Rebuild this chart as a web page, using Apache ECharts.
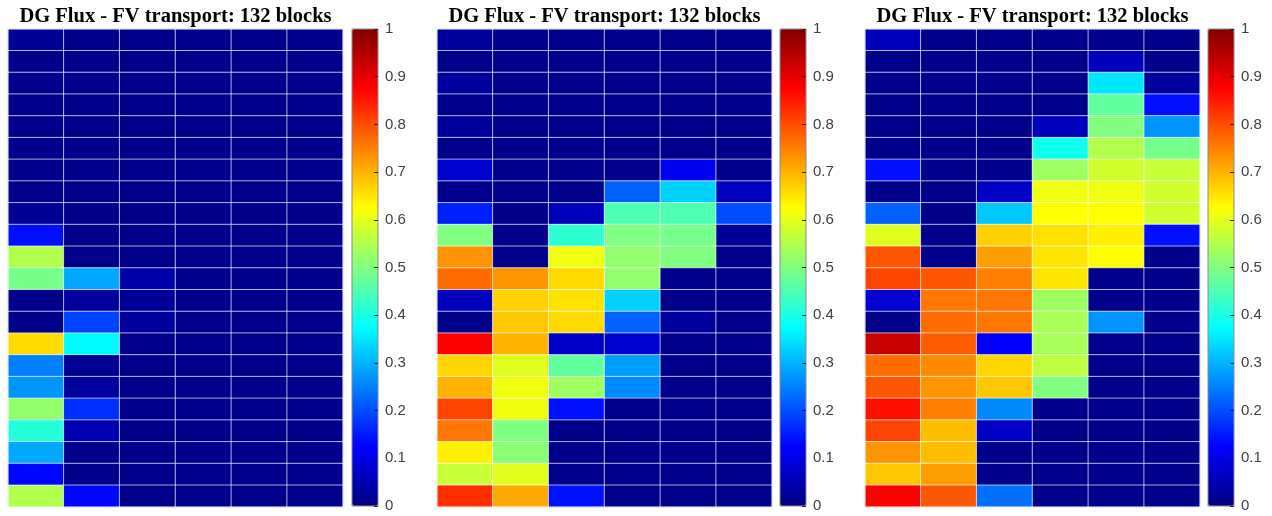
<!DOCTYPE html>
<html><head><meta charset="utf-8">
<script src="https://cdn.jsdelivr.net/npm/echarts@6/dist/echarts.min.js"></script>
<style>html,body{margin:0;padding:0;background:#fff}#c{width:1272px;height:516px}</style>
</head><body><div id="c"></div>
<script>
const titles = ["DG Flux - FV transport: 132 blocks","DG Flux - FV transport: 132 blocks","DG Flux - FV transport: 132 blocks"];
const colorbarTicks = [0,0.1,0.2,0.3,0.4,0.5,0.6,0.7,0.8,0.9,1];
const panel1 = [
[0.02,0.01,0.01,0.01,0.01,0.01],
[0.01,0.01,0.01,0.01,0.01,0.01],
[0.01,0.01,0.01,0.01,0.01,0.01],
[0.01,0.01,0.01,0.01,0.01,0.01],
[0.01,0.01,0.01,0.01,0.01,0.01],
[0.01,0.01,0.01,0.01,0.01,0.01],
[0.01,0.01,0.01,0.01,0.01,0.01],
[0.01,0.01,0.01,0.01,0.01,0.01],
[0.02,0.01,0.01,0.01,0.01,0.01],
[0.14,0.01,0.01,0.01,0.01,0.01],
[0.55,0.01,0.01,0.01,0.01,0.01],
[0.49,0.29,0.04,0.01,0.01,0.01],
[0.01,0.03,0.02,0.01,0.01,0.01],
[0.01,0.19,0.03,0.01,0.01,0.01],
[0.66,0.37,0.01,0.01,0.01,0.01],
[0.25,0.02,0.01,0.01,0.01,0.01],
[0.27,0.03,0.01,0.01,0.01,0.01],
[0.52,0.17,0.01,0.01,0.01,0.01],
[0.41,0.05,0.01,0.01,0.01,0.01],
[0.29,0.01,0.01,0.01,0.01,0.01],
[0.13,0.01,0.01,0.01,0.01,0.01],
[0.55,0.13,0.01,0.01,0.01,0.01]
];
const panel2 = [
[0.03,0.01,0.01,0.01,0.01,0.01],
[0.01,0.01,0.01,0.01,0.01,0.01],
[0.03,0.01,0.01,0.01,0.01,0.01],
[0.01,0.01,0.01,0.01,0.01,0.01],
[0.03,0.01,0.01,0.01,0.01,0.01],
[0.01,0.01,0.01,0.01,0.01,0.01],
[0.08,0.01,0.01,0.01,0.11,0.01],
[0.01,0.01,0.01,0.22,0.33,0.06],
[0.155,0.01,0.06,0.45,0.45,0.2],
[0.5,0.01,0.42,0.5,0.49,0.02],
[0.73,0.01,0.61,0.52,0.5,0.01],
[0.77,0.73,0.66,0.52,0.01,0.01],
[0.06,0.67,0.655,0.33,0.01,0.01],
[0.01,0.68,0.66,0.22,0.03,0.01],
[0.875,0.7,0.07,0.08,0.01,0.01],
[0.665,0.595,0.47,0.28,0.01,0.01],
[0.7,0.61,0.53,0.26,0.01,0.01],
[0.81,0.61,0.14,0.01,0.01,0.01],
[0.76,0.5,0.01,0.01,0.01,0.01],
[0.64,0.51,0.01,0.01,0.01,0.01],
[0.57,0.595,0.01,0.01,0.01,0.01],
[0.83,0.71,0.14,0.01,0.01,0.01]
];
const panel3 = [
[0.06,0.01,0.01,0.01,0.01,0.01],
[0.01,0.01,0.01,0.01,0.06,0.01],
[0.01,0.01,0.01,0.01,0.35,0.03],
[0.01,0.01,0.01,0.01,0.47,0.14],
[0.01,0.01,0.01,0.06,0.5,0.27],
[0.01,0.01,0.01,0.39,0.55,0.49],
[0.14,0.01,0.01,0.53,0.58,0.57],
[0.01,0.01,0.07,0.61,0.61,0.58],
[0.22,0.01,0.32,0.625,0.625,0.58],
[0.595,0.01,0.67,0.655,0.64,0.14],
[0.79,0.01,0.72,0.65,0.625,0.01],
[0.81,0.79,0.75,0.65,0.01,0.01],
[0.08,0.76,0.76,0.53,0.01,0.01],
[0.01,0.77,0.76,0.54,0.27,0.01],
[0.93,0.785,0.12,0.54,0.01,0.01],
[0.77,0.74,0.665,0.56,0.01,0.01],
[0.79,0.73,0.68,0.5,0.01,0.01],
[0.86,0.75,0.26,0.01,0.01,0.01],
[0.81,0.69,0.07,0.01,0.01,0.01],
[0.73,0.69,0.01,0.01,0.01,0.01],
[0.68,0.72,0.01,0.01,0.01,0.01],
[0.875,0.79,0.235,0.01,0.01,0.01]
];
const panels = [panel1, panel2, panel3];
const jet = ['#000080','#0000ff','#0080ff','#00ffff','#80ff80','#ffff00','#ff8000','#ff0000','#800000'];

const layout = [
  {gl:8, cb:352},
  {gl:437, cb:780},
  {gl:865, cb:1208}
];
const TOP = 29, H = 478, GW = 335, CBW = 26;

const grid=[], xAxis=[], yAxis=[], series=[], visualMap=[], title=[];
const fmt = v => { const t = colorbarTicks.find(k => Math.abs(k - v) < 1e-6); return t === undefined ? '' : String(t); };
panels.forEach((p, i) => {
  const L = layout[i];
  grid.push({left:L.gl, top:TOP, width:GW, height:H, show:true, borderColor:'rgba(255,255,255,0.8)', borderWidth:1, backgroundColor:'transparent', z:3});
  xAxis.push({type:'category', gridIndex:2*i, data:[0,1,2,3,4,5], show:false});
  yAxis.push({type:'category', gridIndex:2*i, data:p.map((_,r)=>r), inverse:true, show:false});
  grid.push({left:L.cb, top:TOP, width:CBW, height:H-1, show:true, borderColor:'#8a8a8a', borderWidth:1, backgroundColor:'transparent', z:6});
  xAxis.push({type:'value', gridIndex:2*i+1, show:false, min:0, max:1});
  // labels
  yAxis.push({type:'value', gridIndex:2*i+1, position:'right', min:0, max:1, interval:0.1, z:9,
    axisLine:{show:false}, splitLine:{show:false}, axisTick:{show:false},
    axisLabel:{show:true, margin:7, color:'#404040', fontFamily:'Liberation Sans', fontSize:15, formatter:fmt}
  });
  // inside tick marks along the right edge of the bar
  yAxis.push({type:'value', gridIndex:2*i+1, position:'right', offset:0, min:0, max:1, interval:0.1, zlevel:1, z:9,
    axisLine:{show:false}, splitLine:{show:false}, axisLabel:{show:false},
    axisTick:{show:true, inside:true, length:4, lineStyle:{color:'#262626', width:1}}
  });
  const data=[];
  p.forEach((row, r) => row.forEach((v, c) => data.push([c, r, v])));
  series.push({type:'heatmap', xAxisIndex:2*i, yAxisIndex:3*i, data,
    itemStyle:{borderColor:'rgba(255,255,255,0.65)', borderWidth:1},
    emphasis:{disabled:true}, progressive:0, animation:false});
  visualMap.push({type:'continuous', min:0, max:1, seriesIndex:i, calculable:false, showLabel:false, text:null,
    left:L.cb, top:TOP, itemWidth:CBW, itemHeight:H-1, padding:0, z:2, hoverLink:false,
    inRange:{color:jet}});
  title.push({text:titles[i], left:L.gl + GW/2, top:6, padding:0, textAlign:'center',
    textStyle:{fontFamily:'Liberation Serif', fontWeight:'bold', fontSize:20.5, color:'#000'}});
});

const chart = echarts.init(document.getElementById('c'), null, {renderer:'canvas'});
chart.setOption({animation:false, title, grid, xAxis, yAxis, series, visualMap});
</script></body></html>
